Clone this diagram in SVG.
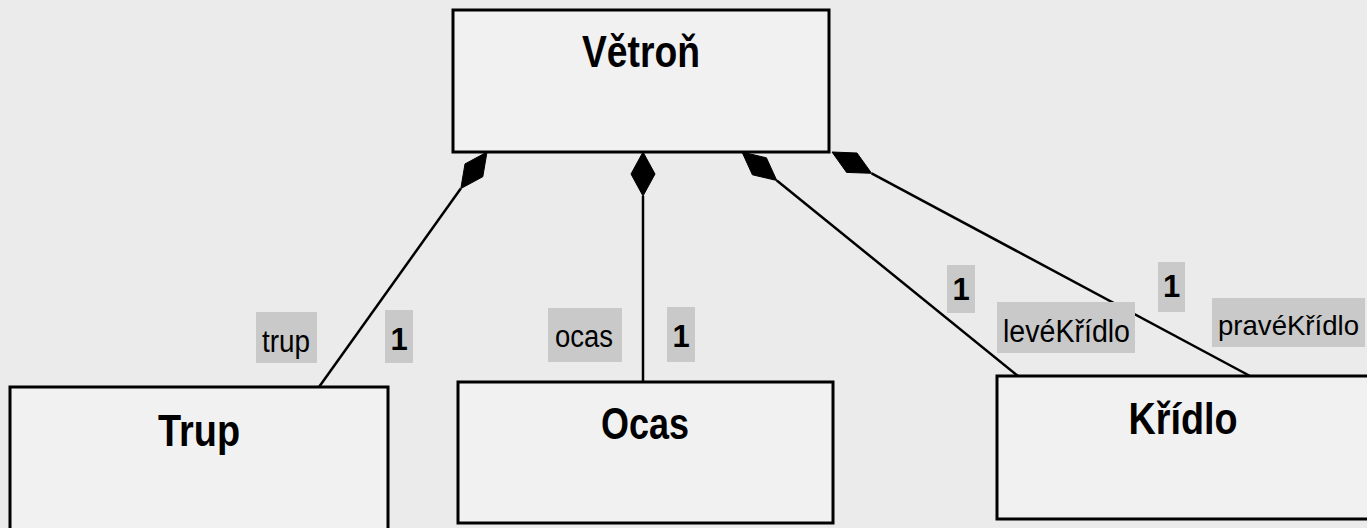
<svg xmlns="http://www.w3.org/2000/svg" width="1367" height="528" viewBox="0 0 1367 528">
<style>
.box{fill:#f1f1f1;stroke:#000;stroke-width:3}
.title{font-family:"Liberation Sans",Arial,sans-serif;font-weight:bold;font-size:44px;fill:#000;text-anchor:middle}
.lbg{fill:#c9c9c9}
.lbl{font-family:"Liberation Sans",Arial,sans-serif;font-size:31px;fill:#000}
.num{font-family:"Liberation Sans",Arial,sans-serif;font-size:31px;font-weight:bold;fill:#000;text-anchor:middle}
.conn{stroke:#000;stroke-width:2.5;fill:none}
.dia{fill:#000;stroke:#000;stroke-width:1}
</style>
<rect x="0" y="0" width="1367" height="528" fill="#ebebeb"/>
<g id="connectors">
<polygon class="dia" points="487,152 482.8,176.7 460.8,188.6 465,163.9"/>
<line class="conn" x1="460.8" y1="188.6" x2="319" y2="387"/>
<polygon class="dia" points="643,152 655,174 643,196 631,174"/>
<line class="conn" x1="643" y1="196" x2="643" y2="382"/>
<polygon class="dia" points="742,152 752.4,174.8 776.8,180.5 766.4,157.8"/>
<line class="conn" x1="776.8" y1="180.5" x2="1018" y2="376"/>
<polygon class="dia" points="832,152 846.6,172.4 871.6,173.3 857,153"/>
<line class="conn" x1="871.6" y1="173.3" x2="1250" y2="376"/>
</g>
<g id="labels">
<rect class="lbg" x="256" y="312" width="61" height="51"/>
<text class="lbl" x="262" y="352" textLength="48" lengthAdjust="spacingAndGlyphs">trup</text>
<rect class="lbg" x="385" y="310" width="28" height="53"/>
<text class="num" x="399" y="350">1</text>
<rect class="lbg" x="548" y="308" width="74" height="54"/>
<text class="lbl" x="555" y="347" textLength="58" lengthAdjust="spacingAndGlyphs">ocas</text>
<rect class="lbg" x="667" y="307" width="28" height="55"/>
<text class="num" x="681" y="347">1</text>
<rect class="lbg" x="947" y="265" width="28" height="48"/>
<text class="num" x="961" y="300">1</text>
<rect class="lbg" x="997" y="302" width="138" height="51"/>
<text class="lbl" x="1003" y="342" textLength="127" lengthAdjust="spacingAndGlyphs">levéKřídlo</text>
<rect class="lbg" x="1212" y="298" width="153" height="49"/>
<text class="lbl" x="1218" y="335" style="font-size:28px" textLength="141" lengthAdjust="spacingAndGlyphs">pravéKřídlo</text>
<rect class="lbg" x="1158" y="262" width="27" height="50"/>
<text class="num" x="1171.5" y="297">1</text>
</g>
<g id="vetron">
<rect class="box" x="453" y="10" width="376" height="142"/>
<text class="title" x="641" y="67" textLength="118" lengthAdjust="spacingAndGlyphs">Větroň</text>
</g>
<g id="trup">
<rect class="box" x="10" y="387" width="378" height="150"/>
<text class="title" x="199" y="446" textLength="82" lengthAdjust="spacingAndGlyphs">Trup</text>
</g>
<g id="ocas">
<rect class="box" x="458" y="382" width="375" height="141"/>
<text class="title" x="645" y="439" textLength="88" lengthAdjust="spacingAndGlyphs">Ocas</text>
</g>
<g id="kridlo">
<rect class="box" x="997" y="376" width="380" height="143"/>
<text class="title" x="1183" y="434" textLength="109" lengthAdjust="spacingAndGlyphs">Křídlo</text>
</g>
</svg>
